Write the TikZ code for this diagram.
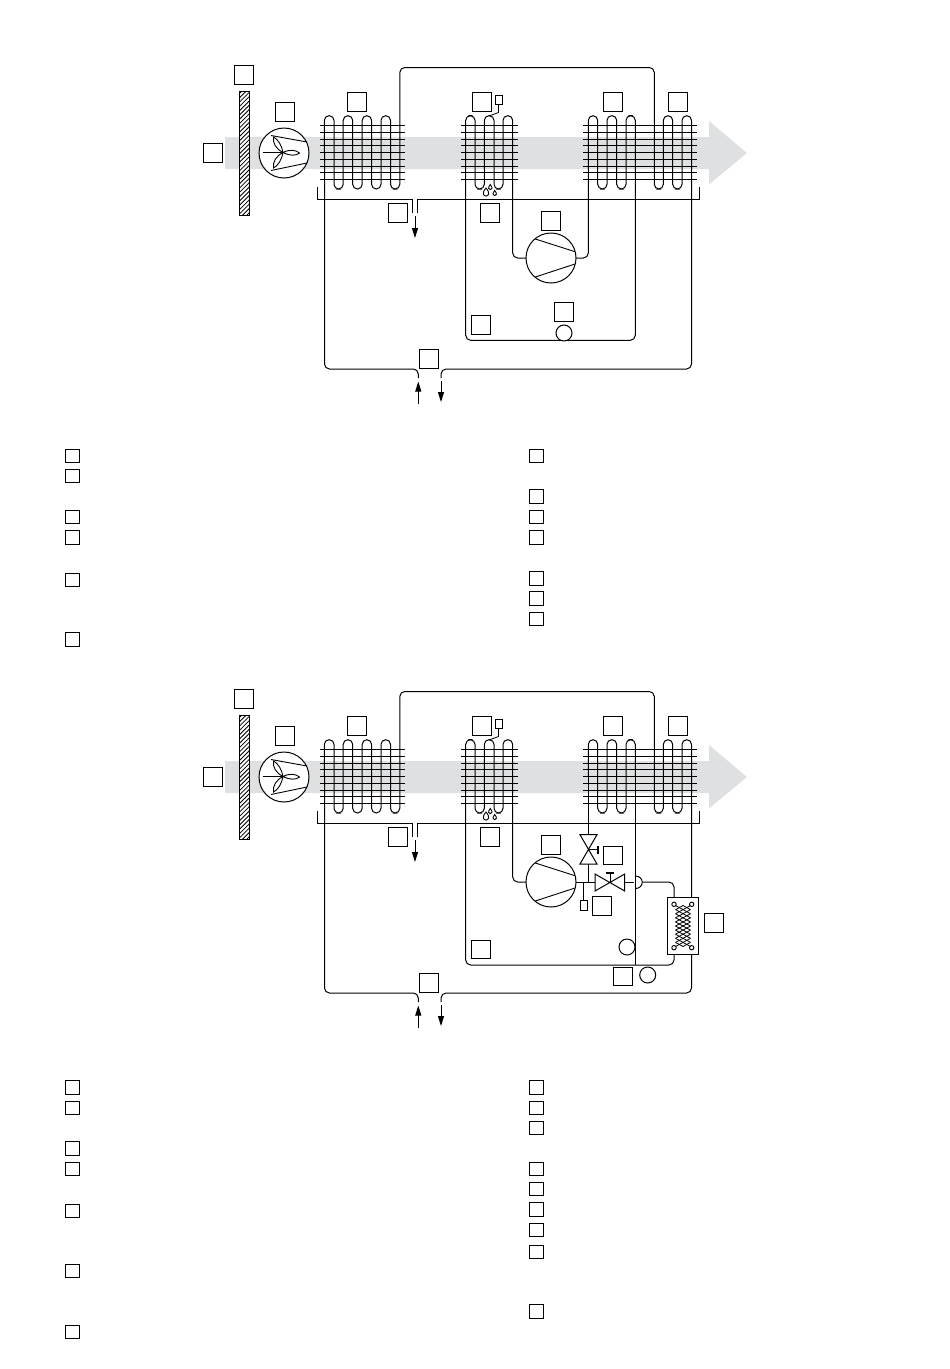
\documentclass[tikz,border=0pt]{standalone}
\usetikzlibrary{arrows.meta}

\definecolor{airgray}{HTML}{DFE0E1}

\tikzset{
  pipe/.style={line width=1pt, rounded corners=5pt},
  fin/.style={line width=0.9pt},
  tag/.style={draw, line width=0.9pt, minimum size=18.5pt, inner sep=0pt},
  legbox/.style={draw, line width=0.9pt, minimum size=13.5pt, inner sep=0pt},
  flow/.style={line width=1pt, -{Triangle[length=10pt,width=6pt]}},
}

% parts both units have in common
\newcommand{\airunit}[1]{
    % air
    \fill[airgray] (225,137) -- (709,137) -- (709,121) -- (747,153) -- (709,184.5) -- (709,169) -- (225,169) -- cycle;

    % filter
    \draw[fill=white, line width=1pt] (239,91) rectangle (249.5,215);
    \begin{scope}
    \clip (239,91) rectangle (249.5,215);
    \foreach \i in {0,...,30} {
         \draw[line width=0.8pt] (239, 94+\i*4.3) -- (249.5, 94+\i*4.3-10.5);
    }
    \end{scope}

    % fan
    \draw[fill=white, line width=1pt] (284,153) circle (25);
    \draw[line width=0.9pt] (271,135.5) -- (307,142);
    \draw[line width=0.9pt] (271,170.5) -- (307,163);
    \draw[line width=0.9pt] (262.5,152.5) -- (283,152.5);
    \draw[line width=0.9pt] (283,152.5) .. controls (290,149) and (296,150) .. (299.5,153) .. controls (296,156) and (290,156) .. (283,152.5);
    \draw[line width=0.9pt] (283,152.5) .. controls (282,146) and (278,139) .. (273.5,137) .. controls (272.5,143) and (276,149) .. (283,152.5);
    \draw[line width=0.9pt] (283,152.5) .. controls (282,159) and (278,166) .. (273.5,168) .. controls (272.5,162) and (276,156) .. (283,152.5);

    % coils
    \foreach \y in {125.3,132,139,145.7,152.3,159.3,166,172.7,179.7} {
         \draw[fin] (320,\y) -- (405,\y);
         \draw[fin] (461,\y) -- (518,\y);
         \draw[fin] (583,\y) -- (697,\y);
    }
    \foreach \xa/\xb in {324.3/334, 343.2/352.7, 362.2/371.6, 381/390.5, 465.7/475, 484.3/494, 503/512.7, 588.3/597.7, 607/616.7, 626/635.3, 663.3/672.7, 682/691.5} {
         \draw[pipe, rounded corners=4.7pt] (\xa,152) -- (\xa,115.7) -- (\xb,115.7) -- (\xb,152);
    }
    \foreach \xa/\xb in {334/343.2, 352.7/362.2, 371.6/381, 390.5/399.8, 475/484.3, 494/503, 597.7/607, 616.7/626, 654.3/663.3, 672.7/682} {
         \draw[pipe, rounded corners=4.7pt] (\xa,152) -- (\xa,189) -- (\xb,189) -- (\xb,152);
    }

    % condensate
    \draw[fin] (486,188) .. controls (495.3,198.7) and (476.7,198.7) .. cycle;
    \draw[fin] (490.3,184.5) .. controls (496.2,191.3) and (484.4,191.3) .. cycle;
    \draw[fin] (494.7,190.5) .. controls (500.6,197.3) and (488.8,197.3) .. cycle;

    % sensor
    \draw[line width=0.8pt] (495,95) rectangle (502,104);
    \draw[line width=0.8pt] (498.5,104) -- (498.5,112.5) -- (489,116);

    % tray
    \draw[fin] (317.3,187) -- (317.3,199) -- (412.7,199) -- (412.7,213);
    \draw[fin] (417.3,213) -- (417.3,199) -- (699.3,199) -- (699.3,187);
    \coordinate (#1drain) at (415,216);
    \draw[flow] (#1drain) -- (415,238);

    % outer loop
    \draw[pipe] (418.3,378) -- (418.3,369) -- (324.5,369) -- (324.5,152);
    \draw[pipe] (441,378) -- (441,369) -- (691.5,369) -- (691.5,152);
    \draw[pipe] (399.8,152) -- (399.8,67.5) -- (654.3,67.5) -- (654.3,152);
    \coordinate (#1in) at (418.3,404);
    \coordinate (#1out) at (441,381);
    \draw[flow] (#1in) -- (418.3,381.5);
    \draw[flow] (#1out) -- (441,402);

    % compressor
    \draw[line width=1pt] (551,258) circle (25);
    \draw[line width=0.9pt] (535.3,239) -- (575,251.7);
    \draw[line width=0.9pt] (535.3,277) -- (575,264);
    \draw[pipe] (512.7,152) -- (512.7,258) -- (526,258);

    % tags
    \foreach \name/\x/\y in {fil/244/75, fan/285/112, air/213/153, coa/357/102, cob/482/102, coc/613/102, cod/678/102, dra/398/213, pan/490/213, com/551/221, low/429/359} {
         \node[tag] (#1\name) at (\x,\y) {};
    }
}

\begin{document}
\begin{tikzpicture}[x=1pt,y=-1pt]
    \useasboundingbox (0,0) rectangle (950,1369);

%upper unit
    \airunit{u}
    \draw[pipe] (588.3,152) -- (588.3,258) -- (576,258);
    \draw[pipe] (635.3,152) -- (635.3,340.3) -- (465.7,340.3) -- (465.7,152);
    \draw[line width=1pt, fill=white] (564,333) circle (8);
    \foreach \name/\x/\y in {res/481/325, sig/564/312} {
         \node[tag] (u\name) at (\x,\y) {};
    }

%legend
    \foreach \i/\x/\y in {0/72.3/455.7, 1/72.3/476, 2/72.3/517, 3/72.3/537.3, 4/72.3/579.7, 5/72.3/639.3,
                          6/536.3/455.7, 7/536.3/496.3, 8/536.3/517, 9/536.3/537.3, 10/536.3/578.3, 11/536.3/598.3, 12/536.3/619} {
         \node[legbox] (ua\i) at (\x,\y) {};
    }

%lower unit
    \begin{scope}[shift={(0,624)}]
    \airunit{l}
    \end{scope}

    \draw[pipe] (588.3,776) -- (588.3,834.7);
    \draw[line width=1pt] (580,834.7) -- (597,834.7) -- (580,864) -- (597,864) -- cycle;
    \draw[line width=1pt] (588.5,849.3) -- (598.3,849.3);
    \draw[line width=2pt] (598.3,845.5) -- (598.3,853.5);
    \draw[pipe] (588.3,864) -- (588.3,882);
    \draw[pipe] (576,882) -- (595,882);

    \draw[line width=1pt] (595,874) -- (624.7,891) -- (624.7,874) -- (595,891) -- cycle;
    \draw[line width=1pt] (610,882.5) -- (610,873);
    \draw[line width=2pt] (605.7,872.7) -- (614,872.7);

    \draw[line width=1pt] (583.7,882) -- (583.7,900);
    \draw[line width=0.8pt] (580.3,900) rectangle (587,910.3);

    \draw[pipe] (635.3,776) -- (635.3,965);
    \draw[pipe] (624.7,882) -- (634,882);
    \draw[pipe] (635.3,876) .. controls (644.5,876) and (644.5,888.5) .. (635.3,888.5);
    \draw[pipe] (642.3,882) -- (674,882) -- (674,897);
    \draw[pipe] (674,955) -- (674,965) -- (465.7,965) -- (465.7,776);

    % exchanger
    \draw[line width=1pt, fill=white] (667.3,897.3) rectangle (698.3,954.7);
    \foreach \x/\y in {674/904.3, 691.7/904.3, 674/947.7, 691.7/947.7} {
         \draw[line width=0.9pt] (\x,\y) circle (2.2);
    }
    \foreach \i in {0,...,9} {
         \draw[line width=0.8pt] (675.5,905.5+\i*4.1) -- (683,905.5+\i*4.1+4.1);
         \draw[line width=0.8pt] (683,905.5+\i*4.1) -- (675.5,905.5+\i*4.1+4.1);
         \draw[line width=0.8pt] (683,905.5+\i*4.1) -- (690.5,905.5+\i*4.1+4.1);
         \draw[line width=0.8pt] (690.5,905.5+\i*4.1) -- (683,905.5+\i*4.1+4.1);
    }

    \draw[line width=1pt, fill=white] (627,947) circle (8);
    \draw[line width=1pt, fill=white] (647.7,975) circle (8);
    \foreach \name/\x/\y in {res/481/949.5, vlv/613/855.3, sen/602/906, hex/714/922.7, pum/623/976.3} {
         \node[tag] (l\name) at (\x,\y) {};
    }

%legend
    \foreach \i/\x/\y in {0/72.3/1087.3, 1/72.3/1107.7, 2/72.3/1148.3, 3/72.3/1168.7, 4/72.3/1210.7, 5/72.3/1270.7, 6/72.3/1331.7,
                          7/536.3/1087.3, 8/536.3/1107.7, 9/536.3/1128, 10/536.3/1168.7, 11/536.3/1189, 12/536.3/1209.3, 13/536.3/1229.7, 14/536.3/1251.7, 15/536.3/1311.3} {
         \node[legbox] (la\i) at (\x,\y) {};
    }

\end{tikzpicture}
\end{document}
